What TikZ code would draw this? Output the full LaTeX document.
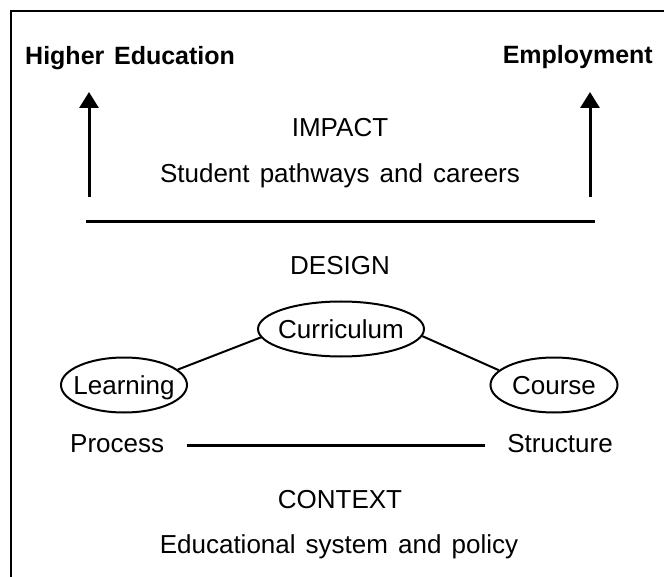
\documentclass[tikz,border=0pt]{standalone}
\usepackage{fontspec}
\setmainfont[WordSpace=1.4]{Liberation Sans}
\usetikzlibrary{arrows.meta,shapes.geometric}

\begin{document}
\begin{tikzpicture}[x=1pt, y=-1pt,
    txt/.style={font=\fontsize{26}{31}\selectfont, inner sep=0pt, text height=18.6pt, text depth=0pt},
    goal/.style={txt, font=\fontsize{25}{30}\selectfont\bfseries},
    bubble/.style={txt, draw, ellipse, line width=2pt, minimum width=#1, minimum height=55pt},
    up/.style={line width=3pt, -{Triangle[width=19pt,length=16pt]}}]
    \useasboundingbox (0,0) rectangle (664,577);
    \draw[line width=2.5pt] (664,11) -- (11,11) -- (11,577);
    \node[goal, anchor=base west] (higher) at (25,65) {Higher Education};
    \node[goal, anchor=base east] (employ) at (653,64) {Employment};
    \coordinate (higher-foot) at (89,197);
    \coordinate (higher-tip) at (89,92);
    \coordinate (employ-foot) at (590,197);
    \coordinate (employ-tip) at (590,92);
    \draw[up] (higher-foot) -- (higher-tip);
    \draw[up] (employ-foot) -- (employ-tip);
    \node[txt, anchor=base] (impact) at (340,137) {IMPACT};
    \node[txt, anchor=base] (pathways) at (340,183) {Student pathways and careers};
    \draw[line width=3pt] (86,222) -- (595,222);
    \node[txt, anchor=base] (design) at (340,275) {DESIGN};
    \node[bubble=166pt] (curric) at (341,329) {\makebox[0pt]{Curriculum}};
    \node[bubble=126pt] (learn) at (124,385) {\makebox[0pt]{Learning}};
    \node[bubble=127pt] (course) at (554,385) {\makebox[0pt]{Course}};
    \draw[line width=2pt] (learn.16) -- (curric.186);
    \draw[line width=2pt] (curric.355) -- (course.165);
    \node[txt, anchor=base west] (process) at (70,452) {Process};
    \node[txt, anchor=base] (structure) at (560,452) {Structure};
    \draw[line width=3.5pt, shorten <=23pt, shorten >=22pt] ([yshift=-3pt]process.east) -- ([yshift=-3pt]structure.west);
    \node[txt, anchor=base] (context) at (340,508) {CONTEXT};
    \node[txt, anchor=base] (system) at (339,553) {Educational system and policy};
\end{tikzpicture}
\end{document}
